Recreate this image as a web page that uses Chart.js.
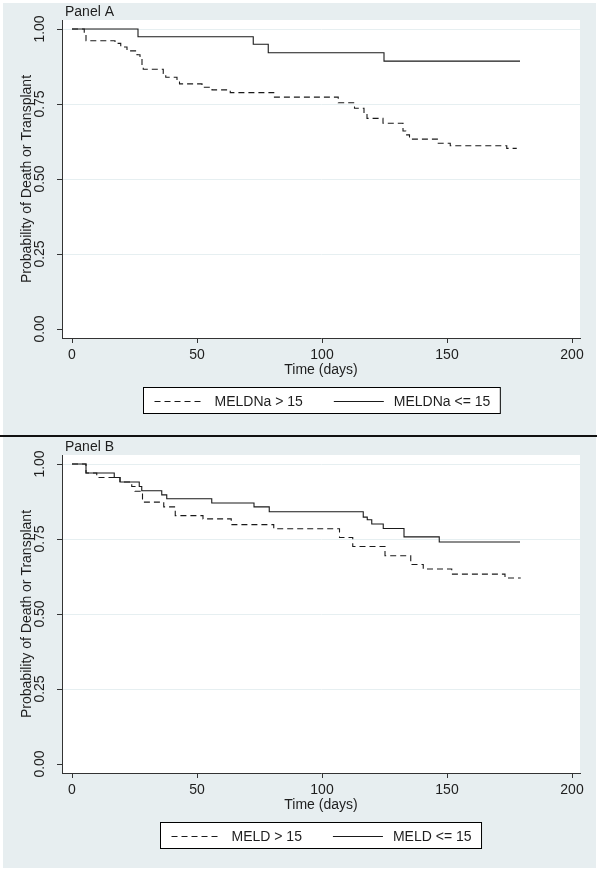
<!DOCTYPE html>
<html>
<head>
<meta charset="utf-8">
<script src="https://cdn.jsdelivr.net/npm/chart.js@4/dist/chart.umd.min.js"></script>
<style>
    body { margin: 0; background: #ffffff; }
    #wrap { position: relative; width: 601px; height: 874px; background: #ffffff; }
    #wrap canvas { position: absolute; left: 0; }
    #chartA { top: 0; }
    #chartB { top: 437px; }
    #divider { position: absolute; left: 0; top: 435px; width: 597px; height: 2px; background: #111111; }
</style>
</head>
<body>
<div id="wrap">
    <canvas id="chartA" width="601" height="435"></canvas>
    <div id="divider"></div>
    <canvas id="chartB" width="601" height="437"></canvas>
</div>
<script>
// axis ticks
const timeTicks = [0, 50, 100, 150, 200];
const probTicks = [0, 0.25, 0.5, 0.75, 1];

// Panel A - MELDNa > 15 (dashed)
const meldnaHighTimes = [0, 4.9, 5.6, 17.2, 19.5, 22, 26, 27.2, 28, 28.5, 36.5, 37.5, 42, 43, 52, 56, 63.3, 80.7,
    106.5, 113, 116.8, 118, 124.4, 132.4, 133.5, 135, 146.5, 151.3, 173.9, 177.9];
const meldnaHighProb = [1, 0.986, 0.961, 0.952, 0.94, 0.927, 0.914, 0.902, 0.878, 0.866, 0.852, 0.839, 0.828, 0.817, 0.806, 0.797, 0.788, 0.773,
    0.754, 0.736, 0.719, 0.702, 0.686, 0.66, 0.647, 0.633, 0.619, 0.611, 0.602, 0.602];

// Panel A - MELDNa <= 15 (solid)
const meldnaLowTimes = [0, 26.4, 72.5, 78.5, 124.8, 179.2];
const meldnaLowProb = [1, 0.974, 0.949, 0.921, 0.893, 0.893];

// Panel B - MELD > 15 (dashed)
const meldHighTimes = [0, 5.6, 9.9, 19.2, 23.9, 25.2, 28.2, 36.7, 41.3, 52.4, 63.7, 80.7, 107, 112.3, 125.2, 135.5, 140.5, 151.9, 173.2, 179.5];
const meldHighProb = [1, 0.97, 0.955, 0.94, 0.925, 0.909, 0.873, 0.857, 0.828, 0.817, 0.798, 0.784, 0.755, 0.725, 0.694, 0.665, 0.65, 0.633, 0.62, 0.62];

// Panel B - MELD <= 15 (solid)
const meldLowTimes = [0, 5.6, 16.9, 19.2, 26.9, 27.9, 35.9, 37.9, 55.9, 72.8, 78.9, 116.5, 118.1, 119.9, 124.5, 132.8, 146.9, 179.2];
const meldLowProb = [1, 0.97, 0.955, 0.94, 0.925, 0.911, 0.897, 0.884, 0.87, 0.857, 0.841, 0.823, 0.814, 0.8, 0.785, 0.757, 0.74, 0.74];

const PANEL_BG = '#e7eef0';
const TEXT = '#1e1e1e';
const FONT = '"Liberation Sans", Arial, sans-serif';
const TICK_FONT = '"Liberation Sans Narrow", "Liberation Sans", Arial, sans-serif';

function toPoints(times, probs) {
    return times.map((t, i) => ({ x: t, y: probs[i] }));
}

// gray graph region + white plot region
const panelBackground = {
    id: 'panelBackground',
    beforeDraw(chart, args, opts) {
        const { ctx, chartArea: a } = chart;
        ctx.save();
        ctx.fillStyle = PANEL_BG;
        ctx.fillRect(opts.left, opts.top, opts.right - opts.left, opts.bottom - opts.top);
        ctx.fillStyle = '#ffffff';
        ctx.fillRect(a.left, a.top, a.right - a.left, a.bottom - a.top);
        ctx.restore();
    }
};

// "Panel A" / "Panel B" caption just above the plot region
const panelCaption = {
    id: 'panelCaption',
    afterDraw(chart, args, opts) {
        const { ctx, chartArea: a } = chart;
        ctx.save();
        ctx.font = '14px ' + FONT;
        ctx.fillStyle = TEXT;
        ctx.textAlign = 'left';
        ctx.textBaseline = 'bottom';
        ctx.fillText(opts.text, a.left + 3, a.top - 1);
        ctx.restore();
    }
};

// legend drawn in a white box with a black frame, centred under the plot
const boxedLegend = {
    id: 'boxedLegend',
    afterDraw(chart, args, opts) {
        const { ctx, chartArea: a } = chart;
        const sets = chart.data.datasets;
        ctx.save();
        ctx.font = '14px ' + FONT;
        const widths = sets.map(d => ctx.measureText(d.label).width);
        let boxW = opts.padLeft + opts.padRight + opts.itemGap * (sets.length - 1);
        widths.forEach(w => { boxW += opts.sample + opts.gap + w; });
        const x0 = Math.round((a.left + a.right) / 2 - boxW / 2) + 0.5;
        const y0 = Math.round(a.bottom + opts.offset) + 0.5;
        ctx.fillStyle = '#ffffff';
        ctx.fillRect(x0, y0, boxW, opts.height);
        ctx.strokeStyle = '#000000';
        ctx.lineWidth = 1;
        ctx.strokeRect(x0, y0, boxW, opts.height);

        const cy = Math.round(y0 + opts.height / 2) + 0.5;
        let x = x0 + opts.padLeft;
        ctx.textAlign = 'left';
        ctx.textBaseline = 'middle';
        sets.forEach((d, i) => {
            ctx.setLineDash(d.borderDash || []);
            ctx.strokeStyle = d.borderColor;
            ctx.lineWidth = d.borderWidth;
            ctx.beginPath();
            ctx.moveTo(x, cy);
            ctx.lineTo(x + opts.sample, cy);
            ctx.stroke();
            ctx.setLineDash([]);
            x += opts.sample + opts.gap;
            ctx.fillStyle = TEXT;
            ctx.fillText(d.label, x, cy + 1);
            x += widths[i] + opts.itemGap;
        });
        ctx.restore();
    }
};

function makePanel(canvasId, caption, highLabel, highPts, lowLabel, lowPts, pad, bg) {
    const ctx = document.getElementById(canvasId);
    return new Chart(ctx, {
        type: 'line',
        data: {
            datasets: [
                {
                    label: highLabel,
                    data: highPts,
                    borderColor: '#1a1a1a',
                    borderWidth: 1.1,
                    borderDash: [6, 4],
                    stepped: 'before',
                    pointRadius: 0,
                    fill: false
                },
                {
                    label: lowLabel,
                    data: lowPts,
                    borderColor: '#1a1a1a',
                    borderWidth: 1.1,
                    stepped: 'before',
                    pointRadius: 0,
                    fill: false
                }
            ]
        },
        options: {
            responsive: false,
            animation: false,
            devicePixelRatio: 1,
            layout: {
                padding: { left: 0, right: 21, top: pad.top, bottom: pad.bottom }
            },
            plugins: {
                legend: { display: false },
                tooltip: { enabled: false },
                panelBackground: bg,
                panelCaption: { text: caption },
                boxedLegend: {
                    offset: 49,
                    height: 26,
                    padLeft: 11,
                    padRight: 10,
                    sample: 50,
                    gap: 10,
                    itemGap: 31
                }
            },
            scales: {
                x: {
                    type: 'linear',
                    min: -4,
                    max: 203.2,
                    afterFit: (scale) => { scale.height = 97; },
                    afterBuildTicks: (scale) => { scale.ticks = timeTicks.map(v => ({ value: v })); },
                    border: { display: true, color: '#333333', width: 1 },
                    grid: {
                        drawOnChartArea: false,
                        drawTicks: true,
                        tickLength: 5,
                        tickColor: '#333333'
                    },
                    ticks: {
                        autoSkip: false,
                        maxRotation: 0,
                        padding: 4,
                        color: TEXT,
                        font: { size: 14, family: TICK_FONT },
                        callback: (v) => String(v)
                    },
                    title: {
                        display: true,
                        text: 'Time (days)',
                        color: TEXT,
                        font: { size: 14, family: FONT },
                        padding: { top: 0, bottom: 56.6 }
                    }
                },
                y: {
                    type: 'linear',
                    min: -0.03,
                    max: 1.03,
                    afterFit: (scale) => { scale.width = 62; },
                    afterBuildTicks: (scale) => { scale.ticks = probTicks.map(v => ({ value: v })); },
                    border: { display: true, color: '#333333', width: 1 },
                    grid: {
                        drawTicks: true,
                        tickLength: 5,
                        tickColor: '#333333',
                        color: (c) => (c.tick && c.tick.value === 0 ? 'rgba(0,0,0,0)' : '#e6eff1'),
                        lineWidth: 1
                    },
                    ticks: {
                        minRotation: 90,
                        maxRotation: 90,
                        crossAlign: 'center',
                        padding: 3,
                        color: TEXT,
                        font: { size: 14, family: TICK_FONT },
                        callback: (v) => Number(v).toFixed(2)
                    },
                    title: {
                        display: true,
                        text: 'Probability of Death or Transplant',
                        color: TEXT,
                        font: { size: 14, family: FONT },
                        padding: { top: 19, bottom: 0 }
                    }
                }
            }
        },
        plugins: [panelBackground, panelCaption, boxedLegend]
    });
}

makePanel('chartA', 'Panel A',
    'MELDNa > 15', toPoints(meldnaHighTimes, meldnaHighProb),
    'MELDNa <= 15', toPoints(meldnaLowTimes, meldnaLowProb),
    { top: 20, bottom: 0 },
    { left: 3, right: 596, top: 3, bottom: 435 });

makePanel('chartB', 'Panel B',
    'MELD > 15', toPoints(meldHighTimes, meldHighProb),
    'MELD <= 15', toPoints(meldLowTimes, meldLowProb),
    { top: 18, bottom: 4 },
    { left: 3, right: 596, top: 0, bottom: 431 });
</script>
</body>
</html>
